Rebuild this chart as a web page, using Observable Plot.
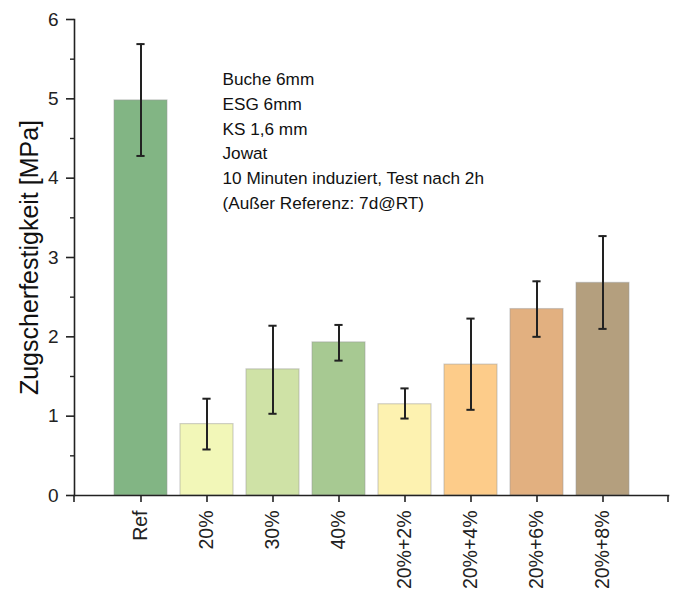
<!DOCTYPE html>
<html>
<head>
<meta charset="utf-8">
<script src="https://cdn.jsdelivr.net/npm/d3@7"></script>
<script src="https://cdn.jsdelivr.net/npm/@observablehq/plot@0.6"></script>
<style>
  html, body { margin: 0; padding: 0; background: #fff; }
  #chart svg { display: block; }
</style>
</head>
<body>
<div id="chart"></div>
<script>
const categories = ["Ref", "20%", "30%", "40%", "20%+2%", "20%+4%", "20%+6%", "20%+8%"];
const means      = [4.98, 0.90, 1.59, 1.93, 1.15, 1.65, 2.35, 2.68];
const errLow     = [4.28, 0.58, 1.03, 1.70, 0.97, 1.08, 2.00, 2.10];
const errHigh    = [5.69, 1.22, 2.14, 2.15, 1.35, 2.23, 2.70, 3.27];
const barColors  = ["#82b584", "#f2f7b8", "#cfe2a6", "#a7c992", "#fdf2b0", "#fdcc8a", "#e2b080", "#b49f7e"];
const yTicks     = [0, 1, 2, 3, 4, 5, 6];
const yMinorTicks = [0.5, 1.5, 2.5, 3.5, 4.5, 5.5];
const yLabel     = "Zugscherfestigkeit [MPa]";
const noteLines  = [
  "Buche 6mm",
  "ESG 6mm",
  "KS 1,6 mm",
  "Jowat",
  "10 Minuten induziert, Test nach 2h",
  "(Außer Referenz: 7d@RT)"
];

const data = categories.map((c, i) => ({
  cat: c, mean: means[i], lo: errLow[i], hi: errHigh[i], color: barColors[i]
}));

const font = "'Liberation Sans', Arial, Helvetica, sans-serif";

// end ticks of the x axis line (at frame edges)
function xEndTicks(index, scales, values, dims) {
  const ns = "http://www.w3.org/2000/svg";
  const g = document.createElementNS(ns, "g");
  const y0 = dims.height - dims.marginBottom;
  for (const x of [dims.marginLeft, dims.width - dims.marginRight]) {
    const l = document.createElementNS(ns, "line");
    l.setAttribute("x1", x); l.setAttribute("x2", x);
    l.setAttribute("y1", y0); l.setAttribute("y2", y0 + 7);
    l.setAttribute("stroke", "#222"); l.setAttribute("stroke-width", 1.6);
    g.appendChild(l);
  }
  return g;
}

const chart = Plot.plot({
  width: 676,
  height: 592,
  marginLeft: 74,
  marginRight: 8,
  marginTop: 19,
  marginBottom: 97,
  style: { fontFamily: font, color: "#222", background: "#fff" },
  x: { domain: categories, paddingInner: 0.2, paddingOuter: 0.6, align: 0.5, label: null },
  y: { domain: [0, 6], label: null },
  marks: [
    Plot.barY(data, {
      x: "cat", y: "mean", fill: "color",
      stroke: "#9a9a9a", strokeOpacity: 0.45, strokeWidth: 1.2
    }),
    Plot.ruleX(data, { x: "cat", y1: "lo", y2: "hi", stroke: "#222", strokeWidth: 2 }),
    Plot.tickY(data, { x: "cat", y: "lo", stroke: "#222", strokeWidth: 2, insetLeft: 22.4, insetRight: 22.4 }),
    Plot.tickY(data, { x: "cat", y: "hi", stroke: "#222", strokeWidth: 2, insetLeft: 22.4, insetRight: 22.4 }),
    Plot.frame({ anchor: "left", stroke: "#222", strokeWidth: 1.6 }),
    Plot.frame({ anchor: "bottom", stroke: "#222", strokeWidth: 1.6 }),
    Plot.axisY({
      ticks: yTicks, tickFormat: d => String(d), tickSize: 8, tickPadding: 8,
      fontSize: 19, strokeWidth: 1.6, label: null
    }),
    Plot.axisY({ ticks: yMinorTicks, tickSize: 4, text: null, strokeWidth: 1.4, label: null }),
    Plot.axisX({
      tickSize: 7, tickPadding: 8, tickRotate: -90, fontSize: 19.5, strokeWidth: 1.6, label: null
    }),
    xEndTicks,
    Plot.text([yLabel], {
      frameAnchor: "left", dx: -45, rotate: -90, text: d => d,
      textAnchor: "middle", lineAnchor: "middle", fontSize: 25, fill: "#111"
    }),
    Plot.text([noteLines.join("\n")], {
      frameAnchor: "top-left", dx: 148, dy: 48,
      text: d => d, textAnchor: "start", lineAnchor: "top",
      lineHeight: 1.44, fontSize: 17.2, fill: "#111"
    })
  ]
});

document.getElementById("chart").appendChild(chart);
</script>
</body>
</html>
